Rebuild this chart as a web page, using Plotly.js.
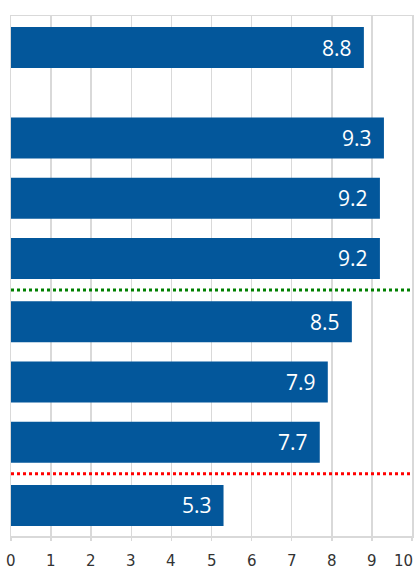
<!DOCTYPE html>
<html>
<head>
<meta charset="utf-8">
<script src="https://cdn.plot.ly/plotly-3.0.1.min.js"></script>
<style>html,body{margin:0;padding:0;background:#fff;}#chart{width:414px;height:569px;}</style>
</head>
<body>
<div id="chart"></div>
<script>
// ---- data ----
const categories = ['Item 1', 'Item 2', 'Item 3', 'Item 4', 'Item 5', 'Item 6', 'Item 7', 'Item 8'];
const values = [8.8, 9.3, 9.2, 9.2, 8.5, 7.9, 7.7, 5.3];
const tickValues = [0, 1, 2, 3, 4, 5, 6, 7, 8, 9, 10];
const tickLabels = ['0', '1', '2', '3', '4', '5', '6', '7', '8', '9', '10'];
// separator lines: drawn after these category indices
const greenAfter = 3;
const redAfter = 6;

// ---- layout helpers (positions) ----
const extraGap = [0, 0.5, 0.5, 0.5, 0.55, 0.55, 0.55, 0.6];
const ypos = categories.map((c, i) => i + extraGap[i]);
const sepY = idx => (ypos[idx] + ypos[idx + 1]) / 2;

const barColor = '#03579b';
const gridColor = '#d9d9d9';

const trace = {
  type: 'bar',
  orientation: 'h',
  x: values,
  y: ypos,
  width: 0.68,
  marker: {color: barColor, line: {width: 0}},
  hoverinfo: 'skip',
  text: categories,
  textposition: 'none'
};

const annotations = values.map((v, i) => ({
  x: v, y: ypos[i], xref: 'x', yref: 'y',
  text: v.toFixed(1), showarrow: false,
  xanchor: 'right', yanchor: 'middle', xshift: -10,
  font: {family: 'Open Sans, DejaVu Sans, sans-serif', size: 21, color: '#ffffff'}
}));
tickValues.forEach((t, i) => {
  annotations.push({
    x: t, y: 0, xref: 'x', yref: 'paper',
    text: tickLabels[i], showarrow: false,
    xanchor: i === tickValues.length - 1 ? 'right' : 'center',
    xshift: i === tickValues.length - 1 ? 2 : 0,
    yanchor: 'middle', yshift: -25, borderpad: 0,
    font: {family: 'DejaVu Sans, sans-serif', size: 15, color: '#333333'}
  });
});

const layout = {
  width: 414, height: 569,
  margin: {l: 11, r: 2, t: 16, b: 33, pad: 0},
  paper_bgcolor: '#ffffff', plot_bgcolor: '#ffffff',
  showlegend: false,
  bargap: 0.3,
  xaxis: {
    range: [0, 10], tickvals: tickValues, showticklabels: false,
    showgrid: true, gridcolor: gridColor, gridwidth: 1.5,
    zeroline: false, showline: true, linecolor: gridColor, linewidth: 1.5, mirror: true,
    ticks: 'outside', ticklen: 3, tickcolor: gridColor, tickwidth: 1.5,
    fixedrange: true
  },
  yaxis: {
    range: [8.107, -0.523], showticklabels: false, showgrid: false,
    zeroline: false, showline: true, linecolor: gridColor, linewidth: 1.5, mirror: true,
    ticks: '', fixedrange: true
  },
  shapes: [
    {type: 'line', xref: 'paper', yref: 'y', x0: 0, x1: 1, y0: sepY(greenAfter), y1: sepY(greenAfter),
     line: {color: '#008000', width: 3, dash: 'dot'}},
    {type: 'line', xref: 'paper', yref: 'y', x0: 0, x1: 1, y0: sepY(redAfter), y1: sepY(redAfter),
     line: {color: '#ff0000', width: 3, dash: 'dot'}}
  ],
  annotations: annotations
};

Plotly.newPlot('chart', [trace], layout, {displayModeBar: false, staticPlot: true});
</script>
</body>
</html>
